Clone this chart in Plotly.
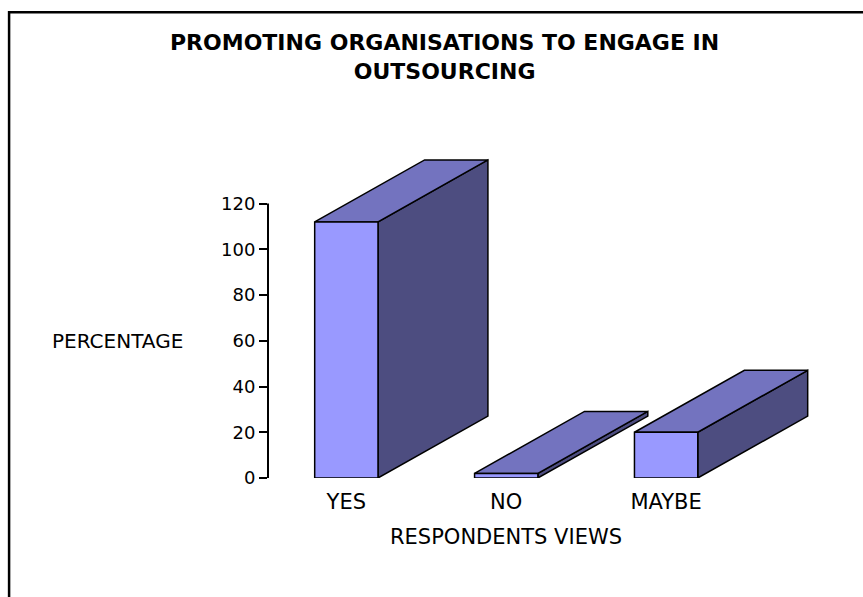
import plotly.graph_objects as go

# Survey results: share of respondents by view
categories = ["YES", "NO", "MAYBE"]
percentages = [112, 2, 20]
y_tick_values = [0, 20, 40, 60, 80, 100, 120]

title_lines = ["PROMOTING ORGANISATIONS TO ENGAGE IN", "OUTSOURCING"]
y_title = "PERCENTAGE"
x_title = "RESPONDENTS VIEWS"

# 3-D look: bar half-width and the oblique depth offset (in axis units)
HALF_W = 0.198
DEPTH_X = 0.6875
DEPTH_Y = 27.1

FRONT = "#9999FF"
TOP = "#7373BF"
SIDE = "#4D4D80"
EDGE = "#000000"

FONT = "DejaVu Sans"

fig = go.Figure()

for i, (cat, v) in enumerate(zip(categories, percentages)):
    x0, x1 = i - HALF_W, i + HALF_W
    faces = [
        (SIDE, [x1, x1 + DEPTH_X, x1 + DEPTH_X, x1, x1],
               [0, DEPTH_Y, v + DEPTH_Y, v, 0]),
        (TOP, [x0, x1, x1 + DEPTH_X, x0 + DEPTH_X, x0],
              [v, v, v + DEPTH_Y, v + DEPTH_Y, v]),
        (FRONT, [x0, x1, x1, x0, x0], [0, 0, v, v, 0]),
    ]
    for color, xs, ys in faces:
        fig.add_trace(go.Scatter(
            x=xs, y=ys, mode="lines", fill="toself", fillcolor=color,
            line=dict(color=EDGE, width=1.5), hoverinfo="skip",
            showlegend=False, cliponaxis=False,
        ))

# value axis line drawn from 0 to the top tick only
fig.add_shape(type="line", xref="paper", yref="y", x0=0, x1=0,
              y0=y_tick_values[0], y1=y_tick_values[-1],
              line=dict(color="black", width=2))

# outer chart frame
fig.add_shape(type="rect", xref="paper", yref="paper",
              x0=-0.464, x1=1.2, y0=-0.5, y1=1.358,
              line=dict(color="black", width=2.5), fillcolor="rgba(0,0,0,0)")

fig.add_annotation(text="<b>" + title_lines[0] + "</b><br><b>" + title_lines[1] + "</b>",
                   xref="paper", yref="paper", x=0.317, y=1.226,
                   xanchor="center", yanchor="middle",
                   showarrow=False, font=dict(family=FONT, size=22, color="black"),
                   align="center")
fig.add_annotation(text=y_title, xref="paper", yref="y", x=-0.2704, y=60,
                   xanchor="center", yanchor="middle",
                   showarrow=False, font=dict(family=FONT, size=20, color="black"))
fig.add_annotation(text=x_title, xref="x", yref="paper", x=1.0, y=-0.172,
                   xanchor="center", yanchor="middle",
                   showarrow=False, font=dict(family=FONT, size=21, color="black"))

fig.update_layout(
    width=863, height=597,
    margin=dict(l=268, r=37, t=135, b=119),
    paper_bgcolor="white", plot_bgcolor="white",
    xaxis=dict(range=[-0.49, 3.0], tickvals=[0, 1, 2], ticktext=categories,
               showgrid=False, zeroline=False, showline=False,
               ticks="outside", ticklen=5, tickcolor="rgba(0,0,0,0)",
               tickfont=dict(family=FONT, size=21, color="black")),
    yaxis=dict(range=[0, 150], tickvals=y_tick_values,
               showgrid=False, zeroline=False, showline=False,
               ticks="outside", ticklen=8, tickwidth=2, tickcolor="black",
               tickfont=dict(family=FONT, size=18, color="black")),
    showlegend=False,
)

fig.write_html("out.html")
